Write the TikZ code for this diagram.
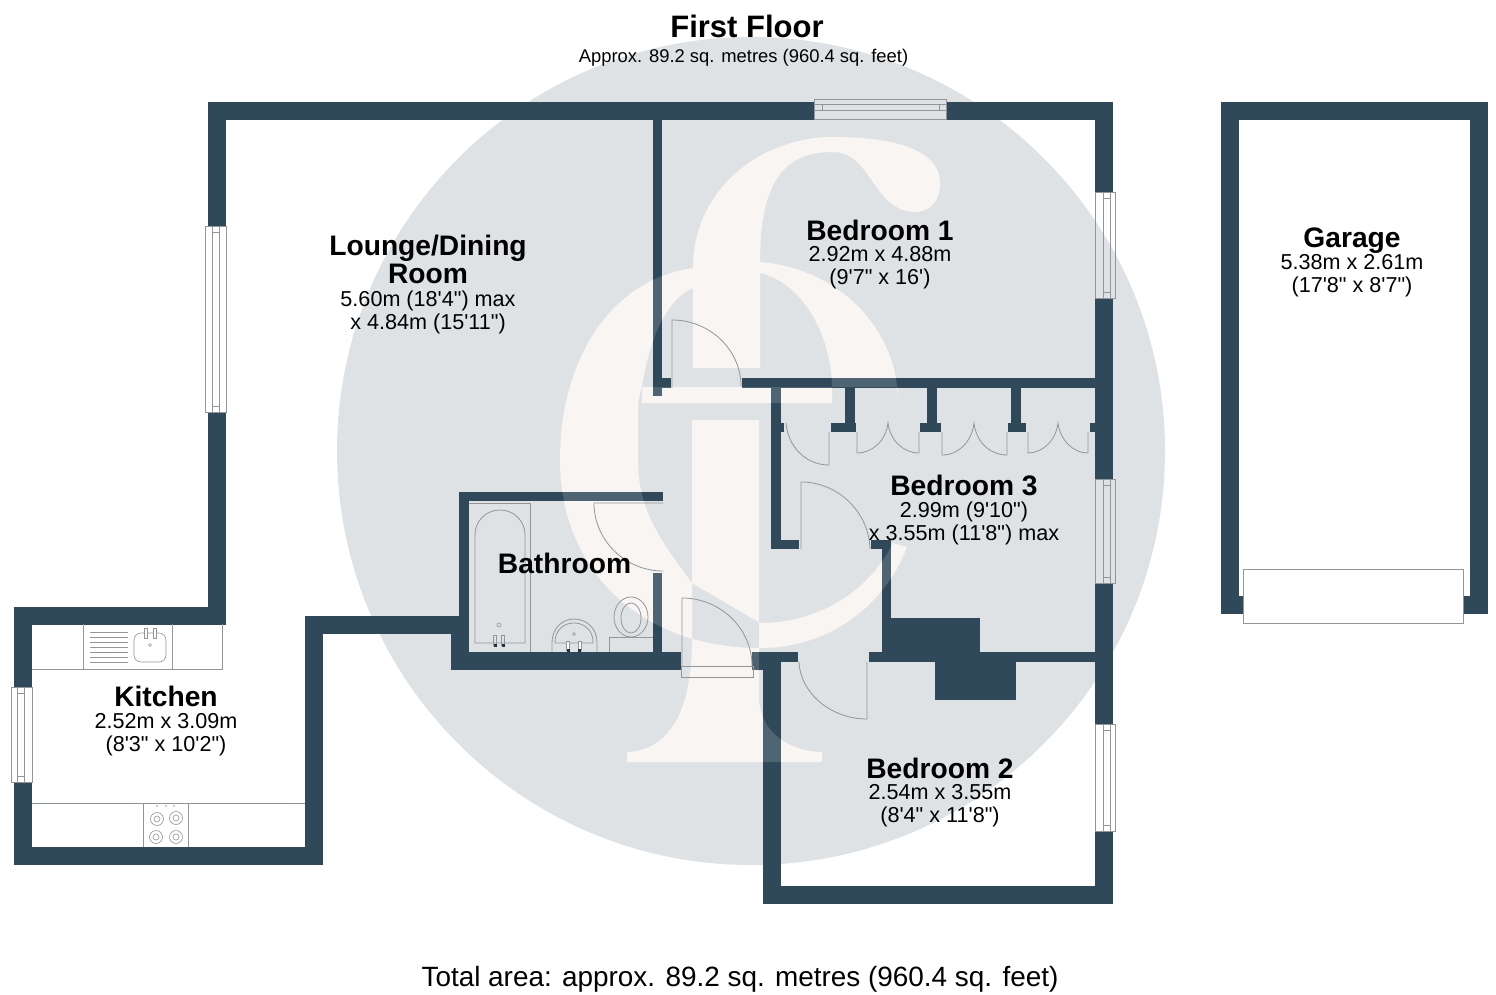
\documentclass[tikz,border=0pt]{standalone}
\usepackage{fontspec}
\newfontfamily\planfont{Liberation Sans}
\definecolor{wallblue}{HTML}{2F495B}
\definecolor{discgrey}{HTML}{DFE2E5}
\definecolor{logocream}{HTML}{F8F5F2}
\definecolor{linegrey}{HTML}{92969A}
\newcommand{\logoshape}{
    (693,368) -- (693,268) .. controls (693,190) and (760,137) .. (833,137)
    .. controls (900,137) and (940,152) .. (940,183)
    .. controls (940,203) and (928,212) .. (915,212)
    .. controls (892,212) and (880,192) .. (870,178)
    .. controls (858,160) and (848,152) .. (833,152)
    .. controls (785,152) and (760,180) .. (760,262) -- (760,368) -- cycle
    (760,262) .. controls (835,268) and (898,325) .. (898,403) -- (832,403) -- (832,385)
    .. controls (830,330) and (800,282) .. (760,273) -- cycle
    (642,387) rectangle (898,403)
    (693,268) .. controls (610,280) and (560,360) .. (560,460)
    .. controls (560,570) and (640,648) .. (760,648)
    .. controls (830,648) and (885,605) .. (907,547) -- (893,543)
    .. controls (870,590) and (820,623) .. (760,623) -- (692,583)
    .. controls (660,540) and (638,510) .. (638,460) -- (638,403) -- (642,385)
    .. controls (650,340) and (665,300) .. (693,288) -- cycle
    (692,420) -- (759,420) -- (759,700) .. controls (762,740) and (800,752) .. (822,752)
    -- (822,762) -- (627,762) -- (627,752) .. controls (670,750) and (692,710) .. (692,640) -- cycle
}
\begin{document}
\begin{tikzpicture}[x=1pt, y=-1pt,
    wall/.style={fill=wallblue},
    fitting/.style={draw=linegrey, line width=0.8pt},
    roomname/.style={font=\planfont\fontsize{28.2}{28}\selectfont\bfseries, inner sep=0pt, align=center},
    roomsize/.style={font=\planfont\fontsize{21.6}{23}\selectfont, inner sep=0pt, align=center}]
    \useasboundingbox (0,0) rectangle (1496,995);
    \fill[white] (0,0) rectangle (1496,995);

    \fill[discgrey] (751,451) circle (414);
    \fill[logocream] \logoshape;

    \fill[wall] (208,102) rectangle (815,120);
    \fill[wall] (946,102) rectangle (1113,120);
    \fill[wall] (208,102) rectangle (226,226);
    \fill[wall] (208,412) rectangle (226,625);
    \fill[wall] (14,607) rectangle (226,625);
    \fill[wall] (14,607) rectangle (32,687);
    \fill[wall] (14,782) rectangle (32,865);
    \fill[wall] (14,847) rectangle (323,865);
    \fill[wall] (305,616) rectangle (323,865);
    \fill[wall] (305,616) rectangle (460,634);

    \fill[wall] (451,616) rectangle (469,670);
    \fill[wall] (459,492) rectangle (469,620);
    \fill[wall] (459,492) rectangle (663,501);
    \fill[wall] (451,652) rectangle (681,670);
    \fill[wall] (653,573) rectangle (662,655);

    \fill[wall] (752,652) rectangle (798,662);
    \fill[wall] (752,652) rectangle (764,670);
    \fill[wall] (763,652) rectangle (781,904);
    \fill[wall] (763,886) rectangle (1113,904);
    \fill[wall] (1095,102) rectangle (1113,192);
    \fill[wall] (1095,298) rectangle (1113,479);
    \fill[wall] (1095,583) rectangle (1113,724);
    \fill[wall] (1095,831) rectangle (1113,904);

    \fill[wall] (653,120) rectangle (662,396);
    \fill[wall] (660,378) rectangle (671,388);
    \fill[wall] (742,378) rectangle (1095,388);
    \fill[wall] (771,388) rectangle (781,549);
    \fill[wall] (771,540) rectangle (799,549);
    \fill[wall] (871,540) rectangle (891,549);
    \fill[wall] (882,540) rectangle (891,662);
    \fill[wall] (869,652) rectangle (1095,662);
    \fill[wall] (885,618) rectangle (980,655);
    \fill[wall] (935,660) rectangle (1016,700);

    \fill[wall] (779,423) rectangle (784,432);
    \fill[wall] (845,388) rectangle (855,425);
    \fill[wall] (831,423) rectangle (856,432);
    \fill[wall] (927,388) rectangle (937,425);
    \fill[wall] (920,423) rectangle (941,432);
    \fill[wall] (1011,388) rectangle (1021,425);
    \fill[wall] (1008,423) rectangle (1026,432);
    \fill[wall] (1090,423) rectangle (1097,432);

    \fill[wall] (1221,102) rectangle (1488,120);
    \fill[wall] (1221,102) rectangle (1239,614);
    \fill[wall] (1470,102) rectangle (1488,614);
    \fill[wall] (1235,596) rectangle (1245,614);
    \fill[wall] (1461,596) rectangle (1474,614);

    \fill[logocream, opacity=0.16] \logoshape;

    \draw[fitting, fill=white] (1243,569) rectangle (1463,623);

    \draw[fitting] (672,388) -- (672,320) .. controls (710,320) and (741,350) .. (741,386);
    \draw[fitting] (801,549) -- (801,482) .. controls (838,482) and (869,512) .. (870,549);
    \draw[fitting] (867,662) -- (867,719) .. controls (830,719) and (800,692) .. (799,662);
    \draw[fitting] (786,423) .. controls (788,447) and (806,465) .. (829,465) -- (829,432);
    \draw[fitting] (663,503) -- (594,503) .. controls (594,540) and (625,571) .. (663,571);
    \draw[fitting] (682,666) -- (682,598) .. controls (720,598) and (752,628) .. (752,666);
    \draw[fitting] (681,666) rectangle (753,677);

    \draw[fitting] (857,432) -- (857,453) .. controls (873,453) and (886,440) .. (888,423)
        .. controls (890,440) and (903,453) .. (919,453) -- (919,432);
    \draw[fitting] (942,432) -- (942,455) .. controls (958,455) and (972,442) .. (974,423)
        .. controls (976,442) and (990,455) .. (1007,455) -- (1007,432);
    \draw[fitting] (1028,432) -- (1028,453) .. controls (1043,453) and (1056,440) .. (1058,423)
        .. controls (1060,440) and (1073,453) .. (1088,453) -- (1088,432);

    \foreach \ya/\yb in {192/298, 479/583, 724/831} {
        \draw[fitting] (1095,\ya) rectangle (1115,\yb);
        \draw[fitting, line width=0.6pt] (1103,\ya) rectangle (1110,\yb);
        \draw[fitting, line width=0.6pt] (1103,\ya+6) -- (1110,\ya+6);
        \draw[fitting, line width=0.6pt] (1103,\yb-6) -- (1110,\yb-6);
    }
    \foreach \xa/\xb/\xc/\ya/\yb in {226/205/212/226/412, 32/11/17/687/782} {
        \draw[fitting] (\xa,\ya) rectangle (\xb,\yb);
        \draw[fitting, line width=0.6pt] (\xc,\ya) rectangle (\xc+7,\yb);
        \draw[fitting, line width=0.6pt] (\xc,\ya+6) -- (\xc+7,\ya+6);
        \draw[fitting, line width=0.6pt] (\xc,\yb-6) -- (\xc+7,\yb-6);
    }
    \draw[fitting] (814,99) rectangle (946,119);
    \draw[fitting, line width=0.6pt] (814,104) rectangle (946,110);
    \draw[fitting, line width=0.6pt] (822,104) -- (822,110);
    \draw[fitting, line width=0.6pt] (939,104) -- (939,110);

    \draw[fitting] (32,669) -- (222,669) -- (222,624);
    \draw[fitting] (83,624) -- (83,669);
    \draw[fitting] (172,624) -- (172,669);
    \foreach \y in {632,637,642,647,652,657,662} {
        \draw[fitting, line width=0.6pt] (90,\y) -- (128,\y);
    }
    \draw[fitting, line width=0.6pt, rounded corners=7pt] (134,633) rectangle (166,662);
    \draw[fitting, line width=0.6pt, fill=white] (144,628) rectangle (147,638);
    \draw[fitting, line width=0.6pt, fill=white] (153,628) rectangle (156,638);
    \draw[fitting, line width=0.6pt] (150,645) circle (1.5);

    \draw[fitting] (32,803) -- (305,803);
    \draw[fitting] (143,803) -- (143,847);
    \draw[fitting] (188,803) -- (188,847);
    \foreach \x/\y in {157/819, 176/818, 156/837, 176/837} {
        \draw[fitting, line width=0.6pt] (\x,\y) circle (6.5);
        \draw[fitting, line width=0.6pt] (\x,\y) circle (3);
    }
    \foreach \x in {157,166,174} {
        \fill[linegrey] (\x,806) circle (0.9);
    }

    \draw[fitting] (469,503) -- (530,503) -- (530,652);
    \draw[fitting] (475,643) -- (475,535) .. controls (475,520) and (487,510) .. (500,510)
        .. controls (513,510) and (525,520) .. (525,535) -- (525,643) -- cycle;
    \draw[fitting, line width=0.6pt] (499,625) circle (2);
    \foreach \x in {495,503} {
        \draw[fitting, line width=0.6pt] (\x-1.5,635) rectangle (\x+1.5,645);
        \fill[wallblue!70!black] (\x-1.5,644) rectangle (\x+1.5,646.5);
    }

    \draw[fitting] (552,652) -- (552,642) .. controls (552,629) and (562,619) .. (574,619)
        .. controls (587,619) and (597,629) .. (597,642) -- (597,652);
    \draw[fitting] (555,643) -- (555,642) .. controls (555,631) and (563,623) .. (574,623)
        .. controls (585,623) and (593,631) .. (593,642) -- (593,643) -- cycle;
    \draw[fitting, line width=0.6pt] (574,634) circle (1.5);
    \foreach \x in {568,579.5} {
        \draw[fitting, line width=0.6pt, fill=white] (\x-1.5,641) rectangle (\x+1.5,650);
        \fill[wallblue!70!black] (\x-1.5,649) rectangle (\x+1.5,651.5);
    }

    \draw[fitting] (609,652) -- (609,637) -- (653,637);
    \draw[fitting] (631,617) ellipse (17 and 20);
    \draw[fitting] (631,618) ellipse (10 and 15);

    \node[roomname, font=\planfont\fontsize{31}{31}\selectfont\bfseries] (floortitle) at (747,26) {First Floor};
    \node[inner sep=0pt, font=\planfont\fontsize{18.4}{20}\selectfont] (floorarea) at (743.5,58) {Approx. 89.2 sq. metres (960.4 sq. feet)};
    \node[roomname] (loungename) at (428,259) {Lounge/Dining\\Room};
    \node[roomsize] (loungesize) at (428,312) {5.60m (18'4") max\\x 4.84m (15'11")};
    \node[roomname] (bedonename) at (880,230) {Bedroom 1};
    \node[roomsize] (bedonesize) at (880,268) {2.92m x 4.88m\\(9'7" x 16')};
    \node[roomname] (garagename) at (1352,241) {Garage};
    \node[roomsize] (garagesize) at (1352,276) {5.38m x 2.61m\\(17'8" x 8'7")};
    \node[roomname] (bedthreename) at (964,485) {Bedroom 3};
    \node[roomsize] (bedthreesize) at (964,523) {2.99m (9'10")\\x 3.55m (11'8") max};
    \node[roomname] (bathname) at (564.5,563) {Bathroom};
    \node[roomname] (kitchenname) at (166,696) {Kitchen};
    \node[roomsize] (kitchensize) at (166,735) {2.52m x 3.09m\\(8'3" x 10'2")};
    \node[roomname] (bedtwoname) at (940,768) {Bedroom 2};
    \node[roomsize] (bedtwosize) at (940,806) {2.54m x 3.55m\\(8'4" x 11'8")};
    \node[inner sep=0pt, font=\planfont\fontsize{27.9}{30}\selectfont] (totalarea) at (740,979) {Total area: approx. 89.2 sq. metres (960.4 sq. feet)};
\end{tikzpicture}
\end{document}
